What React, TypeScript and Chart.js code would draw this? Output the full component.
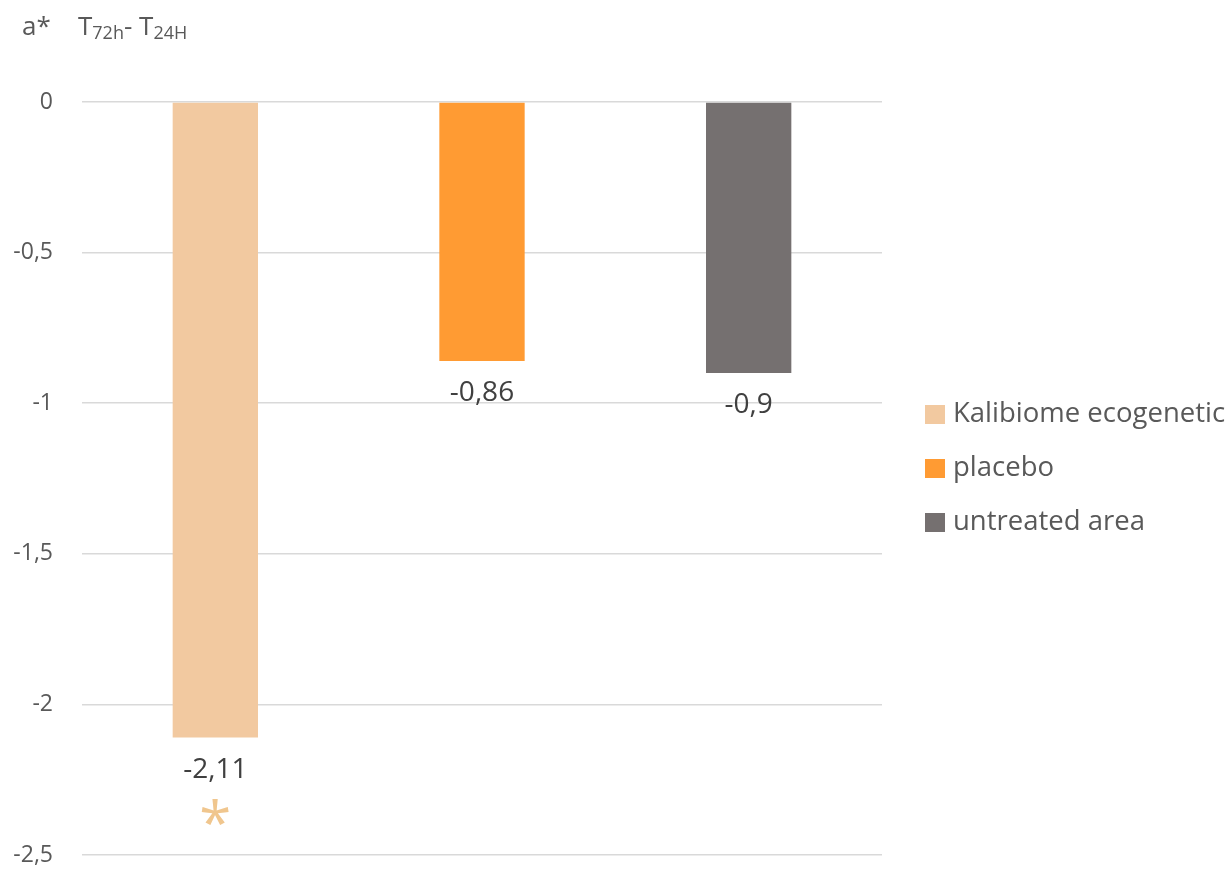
import React, { useEffect, useRef } from 'react';
import { Chart, registerables, Plugin } from 'chart.js';

Chart.register(...registerables);

const categories = ['Kalibiome ecogenetic', 'placebo', 'untreated area'];
const values = [-2.11, -0.86, -0.9];
const colors = ['#F2C9A0', '#FF9B33', '#757070'];
const significant = [true, false, false];

const FONT = '"Open Sans", "Noto Sans", sans-serif';
const TEXT = '#595959';
const fmt = (v: number) => String(v).replace('.', ',');

// value under each bar, plus the star for the significant one
const valueLabels: Plugin<'bar'> = {
  id: 'valueLabels',
  afterDatasetsDraw(chart) {
    const ctx = chart.ctx;
    ctx.save();
    ctx.textAlign = 'center';
    ctx.textBaseline = 'middle';
    chart.data.datasets.forEach((ds, i) => {
      const meta = chart.getDatasetMeta(i);
      meta.data.forEach((bar, j) => {
        const v = ds.data[j] as number | null;
        if (v == null) return;
        ctx.fillStyle = '#404040';
        ctx.font = `28px ${FONT}`;
        ctx.fillText(fmt(v), bar.x, bar.y + 32);
        if (significant[i]) {
          ctx.fillStyle = '#F0C68E';
          ctx.font = `58px ${FONT}`;
          ctx.fillText('*', bar.x, bar.y + 90);
        }
      });
    });
    ctx.restore();
  },
};

// legend to the right of the plot
const sideLegend: Plugin<'bar'> = {
  id: 'sideLegend',
  afterDraw(chart) {
    const { ctx, chartArea } = chart;
    const x = chartArea.right + 43;
    const mid = (chartArea.top + chartArea.bottom) / 2 - 10;
    ctx.save();
    ctx.font = `27.5px ${FONT}`;
    ctx.textBaseline = 'middle';
    ctx.textAlign = 'left';
    chart.data.datasets.forEach((ds, i) => {
      const y = mid + (i - 1) * 54;
      ctx.fillStyle = ds.backgroundColor as string;
      ctx.fillRect(x, y - 9.5, 20, 19);
      ctx.fillStyle = TEXT;
      ctx.fillText(ds.label as string, x + 28, y);
    });
    ctx.restore();
  },
};

// axis title: a*   T72h- T24H
const axisTitle: Plugin<'bar'> = {
  id: 'axisTitle',
  afterDraw(chart) {
    const ctx = chart.ctx;
    ctx.save();
    ctx.fillStyle = TEXT;
    ctx.textBaseline = 'alphabetic';
    ctx.textAlign = 'left';
    const big = `26px ${FONT}`;
    const small = `18px ${FONT}`;
    ctx.font = big;
    ctx.fillText('a*', 22, 35);
    let x = 78;
    const parts: [string, boolean][] = [
      ['T', false],
      ['72h', true],
      ['- T', false],
      ['24H', true],
    ];
    parts.forEach(([t, sub]) => {
      ctx.font = sub ? small : big;
      ctx.fillText(t, x, sub ? 39 : 35);
      x += ctx.measureText(t).width;
    });
    ctx.restore();
  },
};

export default function App() {
  const canvasRef = useRef<HTMLCanvasElement>(null);

  useEffect(() => {
    document.body.style.margin = '0';
    if (!canvasRef.current) return;
    const chart = new Chart(canvasRef.current, {
      type: 'bar',
      data: {
        labels: categories,
        datasets: categories.map((c, i) => ({
          label: c,
          data: categories.map((_, j) => (j === i ? values[i] : null)),
          backgroundColor: colors[i],
          barPercentage: 0.32,
          categoryPercentage: 1,
          skipNull: true,
        })),
      },
      options: {
        animation: false,
        responsive: false,
        maintainAspectRatio: false,
        layout: { padding: { top: 102, bottom: 16, left: 0, right: 350 } },
        scales: {
          x: { display: false },
          y: {
            min: -2.5,
            max: 0,
            afterFit: (s) => {
              s.width = 82;
              s.paddingTop = 0;
              s.paddingBottom = 0;
            },
            border: { display: false },
            grid: { color: '#D9D9D9', lineWidth: 1.5, drawTicks: false },
            ticks: {
              stepSize: 0.5,
              padding: 29,
              color: TEXT,
              font: { family: FONT, size: 23 },
              callback: (v) => fmt(Number(v)),
            },
          },
        },
        plugins: {
          tooltip: { enabled: false },
          legend: { display: false },
        },
      },
      plugins: [valueLabels, sideLegend, axisTitle],
    });
    return () => chart.destroy();
  }, []);

  return (
    <div style={{ width: 1232, height: 871, background: '#fff' }}>
      <canvas ref={canvasRef} width={1232} height={871} style={{ width: 1232, height: 871, display: 'block' }} />
    </div>
  );
}
